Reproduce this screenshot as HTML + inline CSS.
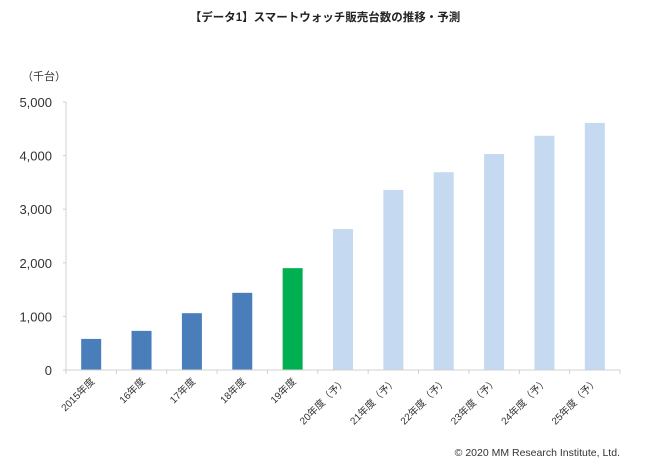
<!DOCTYPE html>
<html><head><meta charset="utf-8"><style>
body{margin:0;background:#fff;}
svg{display:block;font-family:"Liberation Sans","Noto Sans CJK JP",sans-serif;}
</style></head><body>
<svg id="c" width="650" height="465">
<text x="325" y="21" text-anchor="middle" font-size="11.5" font-weight="bold" fill="#222">【データ1】スマートウォッチ販売台数の推移・予測</text>
<text x="22" y="80" font-size="11" fill="#333">（千台）</text>
<text x="620" y="456" text-anchor="end" font-size="10.5" fill="#333">© 2020 MM Research Institute, Ltd.</text>
<g id="g"></g>
</svg>
<script>
const categories=["2015年度","16年度","17年度","18年度","19年度","20年度（予）","21年度（予）","22年度（予）","23年度（予）","24年度（予）","25年度（予）"];
const values=[580,730,1060,1440,1900,2630,3360,3690,4030,4370,4610];
const colors=["#4a7ebb","#4a7ebb","#4a7ebb","#4a7ebb","#00b050","#c5d9f1","#c5d9f1","#c5d9f1","#c5d9f1","#c5d9f1","#c5d9f1"];
const yTicks=[0,1000,2000,3000,4000,5000];
const yTickLabels=["0","1,000","2,000","3,000","4,000","5,000"];
const NS="http://www.w3.org/2000/svg";
const g=document.getElementById('g');
const x0=66,x1=620,yb=370,yt=102,ymax=5000;
const band=(x1-x0)/categories.length;
const y=v=>yb-(v/ymax)*(yb-yt);
const xc=i=>x0+band*(i+0.5);
function mk(t,a){const e=document.createElementNS(NS,t);for(const k in a)e.setAttribute(k,a[k]);g.appendChild(e);return e;}
let ax=mk('line',{x1:x0,y1:yt,x2:x0,y2:yb,stroke:'#d0d0d0','stroke-width':1});


yTicks.forEach((v,i)=>{
 const t=mk('text',{x:52,y:y(v)+5,'text-anchor':'end','font-size':13,fill:'#333'});
 t.textContent=yTickLabels[i];
 
 
 const tk=mk('line',{x1:x0-3,y1:y(v),x2:x0,y2:y(v),stroke:'#d0d0d0'});
 
 
});
values.forEach((v,i)=>{
 const r=mk('rect',{x:xc(i)-10,y:y(v),width:20,height:yb-y(v),fill:colors[i]});
 
 
});
let xa=mk('line',{x1:x0,y1:yb,x2:x1,y2:yb,stroke:'#d0d0d0','stroke-width':1});


for(let i=0;i<=categories.length;i++){
 const tk=mk('line',{x1:x0+band*i,y1:yb,x2:x0+band*i,y2:yb+4,stroke:'#d0d0d0'});
 
 
}
categories.forEach((c,i)=>{
 const px=xc(i)+4,py=yb+12;
 const t=mk('text',{x:px,y:py,'text-anchor':'end','font-size':10,fill:'#333',transform:`rotate(-45 ${px} ${py})`});
 t.textContent=c;
 
 
});
</script>
</body></html>
